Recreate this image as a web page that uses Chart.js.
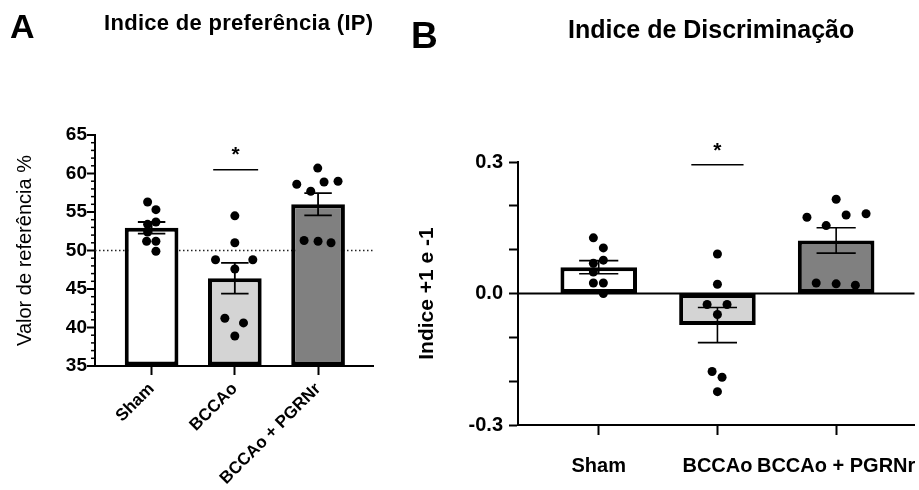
<!DOCTYPE html>
<html><head><meta charset="utf-8">
<script src="https://cdn.jsdelivr.net/npm/chart.js@4.4.1/dist/chart.umd.min.js"></script>
<style>
html,body{margin:0;padding:0;background:#fff;}
body{width:919px;height:490px;position:relative;overflow:hidden;font-family:'Liberation Sans',Arial,sans-serif;color:#000}
.box{position:absolute;top:0;height:490px}
#boxA{left:0;width:400px}
#boxB{left:400px;width:519px}
.t{position:absolute;font-weight:bold;line-height:1;white-space:nowrap;color:#000}
</style></head><body>
<div class="box" id="boxA"><canvas id="cA"></canvas></div>
<div class="box" id="boxB"><canvas id="cB"></canvas></div>
<div class="t" style="left:10px;top:8.6px;font-size:34px">A</div>
<div class="t" style="left:104px;top:12.1px;font-size:22px;letter-spacing:0.3px">Indice de preferência (IP)</div>
<div class="t" style="left:411px;top:16.9px;font-size:37px">B</div>
<div class="t" style="left:568px;top:17.4px;font-size:25px">Indice de Discriminação</div>
<script>
// ---------- shared ----------
const categories = ['Sham', 'BCCAo', 'BCCAo + PGRNr'];
const barColors = ['#ffffff', '#d4d4d4', '#808080'];

// ---------- Panel A: Indice de preferência (IP) ----------
const ipMeans = [52.95, 46.4, 56.0];
const ipSem = [0.75, 2.0, 1.45];
const ipSham  = [56.3, 55.3, 53.7, 53.4, 52.4, 51.2, 51.2, 49.9];
const ipBccao = [54.5, 51.0, 48.8, 48.8, 47.6, 41.2, 40.6, 38.9];
const ipPgrn  = [60.7, 58.6, 58.9, 59.0, 57.7, 51.3, 51.2, 51.0];
// horizontal scatter of the dots, in category units
const ipShamJitter  = [-0.048, 0.052, 0.052, -0.048, -0.048, -0.06, 0.052, 0.052];
const ipBccaoJitter = [0, 0, -0.232, 0.216, 0, -0.12, 0.104, 0];
const ipPgrnJitter  = [-0.004, -0.256, 0.072, 0.24, -0.088, -0.168, 0, 0.156];
const ipTickLabels = [35, 40, 45, 50, 55, 60, 65];
const ipReference = 50;
const ipSig = {from: 0.74, to: 1.28, y: 60.5, star: 61.6};

// ---------- Panel B: Indice de Discriminação ----------
const idMeans = [0.06, -0.072, 0.121];
const idSem = [0.015, 0.040, 0.029];
const idSham  = [0.127, 0.104, 0.076, 0.069, 0.049, 0.024, 0.024, 0.0];
const idBccao = [0.090, 0.021, -0.025, -0.025, -0.048, -0.178, -0.191, -0.224];
const idPgrn  = [0.215, 0.174, 0.179, 0.182, 0.155, 0.024, 0.022, 0.019];
const idShamJitter  = [-0.045, 0.039, 0.039, -0.045, -0.045, -0.045, 0.039, 0.039];
const idBccaoJitter = [0, 0, -0.087, 0.081, 0, -0.045, 0.039, 0];
const idPgrnJitter  = [0, -0.246, 0.084, 0.252, -0.084, -0.168, 0, 0.162];
const idTickLabels = [-0.3, 0, 0.3];
const idSig = {from: 0.78, to: 1.22, y: 0.294, star: 0.311};

Chart.defaults.font.family = "'Liberation Sans', Arial, sans-serif";
Chart.defaults.color = '#000';

function buildPanel(canvasId, o) {
  const barData = o.means.map((m, i) => ({x: i, y: m}));
  const pts = [];
  o.points.forEach((arr, i) => arr.forEach((v, j) => pts.push({x: i + o.jitter[i][j], y: v})));

  const annot = {
    id: 'annot_' + canvasId,
    beforeDatasetsDraw(chart) {
      const ctx = chart.ctx, ys = chart.scales.y, a = chart.chartArea;
      const yp = ys.getPixelForValue(o.refValue);
      ctx.save();
      ctx.strokeStyle = o.refDotted ? '#222' : '#000';
      ctx.lineWidth = o.refDotted ? 1.3 : 2;
      if (o.refDotted) ctx.setLineDash([1.5, 2.5]);
      ctx.beginPath(); ctx.moveTo(a.left, yp); ctx.lineTo(a.right, yp); ctx.stroke();
      ctx.restore();
    },
    afterDatasetDraw(chart, args) {
      if (args.index !== 0) return;
      const ctx = chart.ctx, xs = chart.scales.x, ys = chart.scales.y;
      ctx.save();
      ctx.strokeStyle = '#000'; ctx.lineWidth = o.errWidth;
      o.means.forEach((m, i) => {
        const x = xs.getPixelForValue(i);
        const hw = xs.getPixelForValue(i + 0.165) - x;
        const yt = ys.getPixelForValue(m + o.sem[i]);
        const yb = ys.getPixelForValue(m - o.sem[i]);
        ctx.beginPath();
        ctx.moveTo(x, yt); ctx.lineTo(x, yb);
        ctx.moveTo(x - hw, yt); ctx.lineTo(x + hw, yt);
        ctx.moveTo(x - hw, yb); ctx.lineTo(x + hw, yb);
        ctx.stroke();
      });
      ctx.restore();
    },
    afterDraw(chart) {
      const ctx = chart.ctx, xs = chart.scales.x, ys = chart.scales.y, a = chart.chartArea;
      ctx.save();
      ctx.strokeStyle = '#000'; ctx.fillStyle = '#000';
      // significance line and star
      const sy = ys.getPixelForValue(o.sig.y);
      ctx.lineWidth = 1.5;
      ctx.beginPath(); ctx.moveTo(xs.getPixelForValue(o.sig.from), sy); ctx.lineTo(xs.getPixelForValue(o.sig.to), sy); ctx.stroke();
      ctx.font = "bold 21px 'Liberation Sans', Arial, sans-serif";
      ctx.textAlign = 'center'; ctx.textBaseline = 'alphabetic';
      ctx.fillText('*', xs.getPixelForValue((o.sig.from + o.sig.to) / 2), ys.getPixelForValue(o.sig.star));
      // y ticks with minor marks
      if (o.minorTicks) {
        ys.ticks.forEach(t => {
          const p = ys.getPixelForValue(t.value);
          const major = o.tickLabels.some(v => Math.abs(v - t.value) < 1e-9);
          ctx.lineWidth = major ? 2 : 1.5;
          ctx.beginPath(); ctx.moveTo(a.left - (major ? 8 : 4), p); ctx.lineTo(a.left, p); ctx.stroke();
        });
      }
      ctx.restore();
    }
  };

  return new Chart(document.getElementById(canvasId), {
    type: 'bar',
    data: {datasets: [
      {type: 'bar', data: barData, backgroundColor: barColors, borderColor: '#000', borderWidth: o.barBorder,
       borderSkipped: false, base: o.base, barPercentage: 0.645, categoryPercentage: 1, order: 1},
      {type: 'scatter', data: pts, pointRadius: 4.5, pointBackgroundColor: '#000', pointBorderWidth: 0, order: 0}
    ]},
    options: {
      responsive: true, maintainAspectRatio: false, animation: false, events: [],
      layout: {padding: o.padding},
      plugins: {legend: {display: false}, tooltip: {enabled: false}},
      scales: {
        x: {
          type: 'linear', min: -0.68, max: 2.66, offset: false,
          afterBuildTicks: s => { s.ticks = categories.map((c, i) => ({value: i})); },
          afterFit: s => { s.height = o.xHeight; s.paddingLeft = 0; s.paddingRight = 0; },
          ticks: {autoSkip: false, maxRotation: o.rot, minRotation: o.rot, padding: o.xPad, color: '#000',
                  font: {size: o.xFont, weight: 'bold'}, callback: v => categories[Math.round(v)] ?? ''},
          grid: {offset: false, drawOnChartArea: false, tickLength: o.xTick, tickWidth: 2, tickColor: '#000'},
          border: {color: '#000', width: 2}
        },
        y: {
          min: o.yMin, max: o.yMax,
          afterFit: s => { s.width = o.yWidth; s.paddingTop = 0; s.paddingBottom = 0; },
          ticks: {stepSize: o.yStep, autoSkip: false, padding: o.yPad, color: '#000',
                  font: {size: o.yFont, weight: 'bold'},
                  callback: v => o.tickLabels.some(t => Math.abs(t - v) < 1e-9) ? o.fmt(v) : ''},
          grid: o.minorTicks ? {drawOnChartArea: false, drawTicks: false}
                             : {drawOnChartArea: false, tickLength: 9, tickWidth: 2, tickColor: '#000'},
          border: {color: '#000', width: 2},
          title: {display: true, text: o.yTitle, color: '#000', font: o.yTitleFont, padding: {top: o.yTitlePad, bottom: 0}}
        }
      }
    },
    plugins: [annot]
  });
}

buildPanel('cA', {
  means: ipMeans, sem: ipSem, points: [ipSham, ipBccao, ipPgrn],
  jitter: [ipShamJitter, ipBccaoJitter, ipPgrnJitter],
  tickLabels: ipTickLabels, fmt: v => String(Math.round(v)),
  refValue: ipReference, refDotted: true, sig: ipSig,
  yMin: 35, yMax: 65, yStep: 1, base: 35, minorTicks: true,
  padding: {left: 0, top: 135, right: 27, bottom: 0}, yWidth: 95, xHeight: 124,
  yPad: 8, yFont: 19, xFont: 17, rot: 45, xPad: 4, xTick: 9, barBorder: 4, errWidth: 1.8,
  yTitle: 'Valor de referência %', yTitleFont: {size: 20, weight: 'normal'}, yTitlePad: 13
});

buildPanel('cB', {
  means: idMeans, sem: idSem, points: [idSham, idBccao, idPgrn],
  jitter: [idShamJitter, idBccaoJitter, idPgrnJitter],
  tickLabels: idTickLabels, fmt: v => (Math.round(v * 10) / 10).toFixed(1),
  refValue: 0, refDotted: false, sig: idSig,
  yMin: -0.3, yMax: 0.3, yStep: 0.1, base: 0, minorTicks: false,
  padding: {left: 0, top: 162, right: 3, bottom: 0}, yWidth: 118, xHeight: 65,
  yPad: 6, yFont: 20, xFont: 20, rot: 0, xPad: 19, xTick: 10, barBorder: 4, errWidth: 1.6,
  yTitle: 'Indice +1 e -1', yTitleFont: {size: 21, weight: 'bold'}, yTitlePad: 15
});
</script>
</body></html>
